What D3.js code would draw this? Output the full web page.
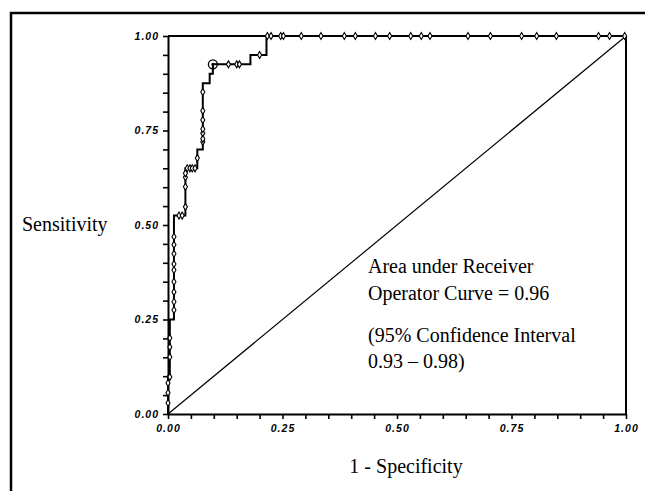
<!DOCTYPE html>
<html>
<head>
<meta charset="utf-8">
<script src="https://cdn.jsdelivr.net/npm/d3@7"></script>
<style>
    body { margin: 0; background: #fff; }
    .tick text { font-family: "Liberation Sans", Arial, sans-serif; font-size: 10.5px; font-weight: bold; font-style: italic; letter-spacing: 1px; fill: #000; }
    .tick line { stroke: #000; stroke-width: 1.6px; }
    .domain { stroke: #000; stroke-width: 2px; }
    .lab { font-family: "Liberation Serif", "Times New Roman", serif; font-size: 20px; fill: #000; }
</style>
</head>
<body>
<script>

var width = 645,
    height = 491;

// ROC step curve (1 - specificity, sensitivity)
var rocX = [0, 0, 0.004, 0.004, 0.013, 0.013, 0.038, 0.038, 0.064, 0.064, 0.076, 0.076, 0.091, 0.091, 0.098, 0.098, 0.18, 0.18, 0.215, 0.215, 1];
var rocY = [0, 0.1, 0.1, 0.25, 0.25, 0.525, 0.525, 0.65, 0.65, 0.70, 0.70, 0.875, 0.875, 0.90, 0.90, 0.925, 0.925, 0.95, 0.95, 1, 1];

// small marks sitting on the curve
var markX = [0, 0, 0, 0.004, 0.004, 0.004, 0.004,
             0.013, 0.013, 0.013, 0.013, 0.013, 0.013, 0.013, 0.013, 0.013,
             0.024, 0.031, 0.038, 0.038, 0.038, 0.038,
             0.042, 0.048, 0.053, 0.059, 0.064, 0.076,
             0.076, 0.076, 0.076, 0.076, 0.076, 0.076,
             0.132, 0.150, 0.156, 0.20,
             0.217, 0.225, 0.246, 0.252, 0.291, 0.334, 0.385, 0.409, 0.453, 0.484,
             0.530, 0.553, 0.572, 0.655, 0.704, 0.772, 0.805, 0.848, 0.940, 0.964, 0.997];
var markY = [0.029, 0.056, 0.082, 0.098, 0.151, 0.177, 0.201,
             0.275, 0.297, 0.323, 0.350, 0.381, 0.397, 0.424, 0.448, 0.469,
             0.525, 0.525, 0.548, 0.601, 0.626, 0.637,
             0.65, 0.65, 0.65, 0.65, 0.677, 0.72,
             0.728, 0.743, 0.754, 0.778, 0.802, 0.852,
             0.925, 0.925, 0.925, 0.95,
             1, 1, 1, 1, 1, 1, 1, 1, 1, 1,
             1, 1, 1, 1, 1, 1, 1, 1, 1, 1, 1];

// highlighted cut-off point
var cutX = 0.098, cutY = 0.925;

var tickVals = d3.range(0, 21).map(function(i) { return i * 0.05; });

var annotation = ["Area under Receiver", "Operator Curve = 0.96", "(95% Confidence Interval", "0.93 \u2013 0.98)"];

var svg = d3.select("body").append("svg")
    .attr("width", width)
    .attr("height", height);

// outer frame
svg.append("rect")
    .attr("x", 11).attr("y", 13)
    .attr("width", 700).attr("height", 600)
    .style("fill", "none")
    .style("stroke", "#000")
    .style("stroke-width", 2.5);

var x = d3.scaleLinear().domain([0, 1]).range([168, 626]);
var y = d3.scaleLinear().domain([0, 1]).range([414, 36]);

function fmt(d) {
    var r = Math.round(d * 100);
    return r % 25 === 0 ? d3.format(".2f")(d) : "";
}

svg.append("g")
    .attr("transform", "translate(0," + y(0) + ")")
    .call(d3.axisBottom(x).tickValues(tickVals).tickFormat(fmt).tickSize(5).tickSizeOuter(0).tickPadding(6));

svg.append("g")
    .attr("transform", "translate(" + x(0) + ",0)")
    .call(d3.axisLeft(y).tickValues(tickVals).tickFormat(fmt).tickSize(5).tickSizeOuter(0).tickPadding(4));

// top and right frame of the plot
svg.append("line")
    .attr("x1", x(0)).attr("x2", x(1)).attr("y1", y(1)).attr("y2", y(1))
    .style("stroke", "#000").style("stroke-width", 2);
svg.append("line")
    .attr("x1", x(1)).attr("x2", x(1)).attr("y1", y(1)).attr("y2", y(0))
    .style("stroke", "#000").style("stroke-width", 2);

// chance diagonal
svg.append("line")
    .attr("x1", x(0)).attr("y1", y(0)).attr("x2", x(1)).attr("y2", y(1))
    .style("stroke", "#000").style("stroke-width", 1.2);

var line = d3.line()
    .x(function(d) { return x(d[0]); })
    .y(function(d) { return y(d[1]); });

svg.append("path")
    .datum(d3.zip(rocX, rocY))
    .attr("d", line)
    .style("fill", "none")
    .style("stroke", "#000")
    .style("stroke-width", 2);

var marks = svg.selectAll("g.mark")
    .data(d3.zip(markX, markY))
    .enter().append("g")
    .attr("class", "mark")
    .attr("transform", function(d) { return "translate(" + x(d[0]) + "," + y(d[1]) + ")"; });

marks.append("line")
    .attr("x1", 0).attr("x2", 0).attr("y1", -3).attr("y2", 3)
    .style("stroke", "#000").style("stroke-width", 1.2);
marks.append("path")
    .attr("d", d3.symbol().type(d3.symbolDiamond).size(14))
    .style("fill", "#fff")
    .style("stroke", "#000")
    .style("stroke-width", 1.1);

svg.append("circle")
    .attr("cx", x(cutX)).attr("cy", y(cutY)).attr("r", 4.5)
    .style("fill", "none").style("stroke", "#000").style("stroke-width", 1.3);
svg.append("circle")
    .attr("cx", x(cutX)).attr("cy", y(cutY)).attr("r", 1.5)
    .style("fill", "#000");

svg.append("text")
    .attr("class", "lab")
    .attr("x", 22).attr("y", 231)
    .text("Sensitivity");

svg.append("text")
    .attr("class", "lab")
    .attr("x", 406).attr("y", 473)
    .attr("text-anchor", "middle")
    .text("1 - Specificity");

var annY = [273, 300, 342, 368];
svg.selectAll("text.ann")
    .data(annotation)
    .enter().append("text")
    .attr("class", "lab ann")
    .attr("x", 368)
    .attr("y", function(d, i) { return annY[i]; })
    .text(function(d) { return d; });

</script>
</body>
</html>
